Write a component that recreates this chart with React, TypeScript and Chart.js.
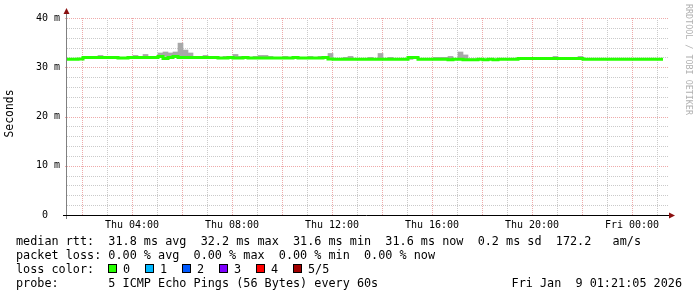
import React, { useEffect, useRef } from 'react';
import { Chart, registerables } from 'chart.js';

Chart.register(...registerables);

// time axis, in hours counted from Thu 00:00
const START_HOUR = 1.4;
const END_HOUR = 25.4;
const BUCKET_START = 1.44;
const BUCKET_HOURS = 0.2;

// median round-trip time per 12-minute bucket (ms)
const medianRtt = [
  31.6, 31.6, 31.6, 31.7, 32.0, 32.0, 32.0, 32.0, 32.0, 32.0,
  32.0, 31.9, 31.9, 32.0, 32.0, 32.0, 32.0, 32.0, 32.0, 32.2,
  31.8, 32.0, 32.2, 32.0, 32.0, 32.0, 32.0, 32.0, 32.0, 32.0,
  32.0, 31.9, 31.9, 32.0, 31.9, 31.9, 32.0, 31.9, 31.9, 31.9,
  31.9, 31.9, 31.9, 31.9, 31.9, 31.9, 32.0, 31.9, 31.9, 31.9,
  31.9, 31.9, 32.0, 31.7, 31.6, 31.6, 31.6, 31.6, 31.6, 31.6,
  31.6, 31.6, 31.6, 31.6, 31.6, 31.6, 31.6, 31.6, 31.6, 32.0,
  32.0, 31.6, 31.6, 31.6, 31.6, 31.6, 31.6, 31.5, 31.6, 31.6,
  31.5, 31.5, 31.5, 31.6, 31.5, 31.6, 31.5, 31.6, 31.6, 31.6,
  31.6, 31.8, 31.8, 31.8, 31.8, 31.8, 31.8, 31.8, 31.8, 31.8,
  31.8, 31.8, 31.8, 31.8, 31.6, 31.6, 31.6, 31.6, 31.6, 31.6,
  31.6, 31.6, 31.6, 31.6, 31.6, 31.6, 31.6, 31.6, 31.6,
];

// top of the smoke (max ping) per bucket (ms); null = no visible smoke
const smokeMax: (number | null)[] = [
  null, null, null, null, null, null, 32.4, null, 32.2, null,
  null, null, null, 32.4, null, 32.6, null, null, 32.9, 33.1,
  32.9, 33.1, 34.9, 33.5, 32.9, null, null, 32.4, null, null,
  null, 32.2, null, 32.6, 32.2, 32.2, null, 32.2, 32.4, 32.4,
  32.2, null, null, 32.2, null, null, null, null, 32.2, null,
  32.2, null, 32.8, null, null, 32.0, 32.2, null, null, null,
  32.0, null, 32.8, null, 32.0, null, null, null, 32.0, 32.2,
  null, null, null, 32.0, 32.0, 32.0, 32.2, null, 33.1, 32.5,
  31.7, 31.7, null, null, null, null, null, null, null, null,
  null, null, null, null, null, null, null, 32.2, null, null,
  null, null, 32.2, null, null, null, null, null, null, null,
  null, null, null, null, null, null, null, null, null,
];

const xTickHours = [2, 3, 4, 5, 6, 7, 8, 9, 10, 11, 12, 13, 14, 15, 16, 17, 18, 19, 20, 21, 22, 23, 24, 25];
const xTickLabels: Record<number, string> = {
  4: 'Thu 04:00',
  8: 'Thu 08:00',
  12: 'Thu 12:00',
  16: 'Thu 16:00',
  20: 'Thu 20:00',
  24: 'Fri 00:00',
};
const yTickLabels: Record<number, string> = {
  0: '0  ',
  10: '10 m',
  20: '20 m',
  30: '30 m',
  40: '40 m',
};

const legendLine1 = 'median rtt:  31.8 ms avg  32.2 ms max  31.6 ms min  31.6 ms now  0.2 ms sd  172.2   am/s';
const legendLine2 = 'packet loss: 0.00 % avg  0.00 % max  0.00 % min  0.00 % now';
const lossLabel = 'loss color:';
const lossNames = ['0', '1', '2', '3', '4', '5/5'];
const lossColors = ['#26ff00', '#00b8ff', '#0059ff', '#7e00ff', '#ff0000', '#a10000'];
const probeLabel = 'probe:       5 ICMP Echo Pings (56 Bytes) every 60s';
const stampText = 'Fri Jan  9 01:21:05 2026';
const yAxisTitle = 'Seconds';
const watermark = 'RRDTOOL / TOBI OETIKER';

const MONO = '"DejaVu Sans Mono", monospace';
const GRID_MINOR = '#cacaca';
const GRID_MAJOR = '#eeaaaa';
const MEDIAN_GREEN = '#26ff00';
const SMOKE_GRAY = '#a8a8a8';
const ARROW_RED = '#8b1010';

// dotted grid drawn from the scales' own ticks
const gridPlugin = {
  id: 'dottedGrid',
  beforeDatasetsDraw(chart: any) {
    const ctx: CanvasRenderingContext2D = chart.ctx;
    const { left, right, top, bottom } = chart.chartArea;
    const xs = chart.scales.x;
    const ys = chart.scales.y;
    ctx.save();
    ys.ticks.forEach((t: any) => {
      if (t.value === 0) return;
      const row = Math.round(ys.getPixelForValue(t.value));
      const major = t.value % 10 === 0;
      ctx.fillStyle = major ? GRID_MAJOR : GRID_MINOR;
      for (let x = Math.round(left) + (major ? -2 : 0); x < right + 2; x += 2) {
        ctx.fillRect(x, row, 1, 1);
      }
    });
    xs.ticks.forEach((t: any) => {
      const col = Math.round(xs.getPixelForValue(t.value));
      const major = t.value % 2 === 0;
      ctx.fillStyle = major ? GRID_MAJOR : GRID_MINOR;
      for (let y = Math.round(top); y < bottom; y += 2) {
        ctx.fillRect(col, y, 1, 1);
      }
    });
    ctx.restore();
  },
};

const decorPlugin = {
  id: 'decor',
  afterDraw(chart: any) {
    const ctx: CanvasRenderingContext2D = chart.ctx;
    const { left, right, top, bottom } = chart.chartArea;
    ctx.save();
    // axes
    ctx.lineWidth = 1;
    ctx.strokeStyle = '#808080';
    ctx.beginPath();
    ctx.moveTo(left - 0.5, bottom + 4);
    ctx.lineTo(left - 0.5, top - 6);
    ctx.stroke();
    ctx.strokeStyle = '#000000';
    ctx.beginPath();
    ctx.moveTo(left - 4, bottom + 0.5);
    ctx.lineTo(right + 3, bottom + 0.5);
    ctx.stroke();
    // arrows
    ctx.fillStyle = ARROW_RED;
    ctx.beginPath();
    ctx.moveTo(left - 0.5, top - 10);
    ctx.lineTo(left - 3.5, top - 4);
    ctx.lineTo(left + 2.5, top - 4);
    ctx.closePath();
    ctx.fill();
    ctx.beginPath();
    ctx.moveTo(right + 8, bottom + 0.5);
    ctx.lineTo(right + 2, bottom - 2.5);
    ctx.lineTo(right + 2, bottom + 3.5);
    ctx.closePath();
    ctx.fill();

    // y axis title
    ctx.fillStyle = '#000000';
    ctx.font = `11.4px ${MONO}`;
    ctx.textAlign = 'center';
    ctx.textBaseline = 'middle';
    ctx.save();
    ctx.translate(10, (top + bottom) / 2 - 3);
    ctx.rotate(-Math.PI / 2);
    ctx.fillText(yAxisTitle, 0, 0);
    ctx.restore();

    // watermark
    ctx.save();
    ctx.fillStyle = '#b0b0b0';
    ctx.font = `8.4px ${MONO}`;
    ctx.textAlign = 'left';
    ctx.translate(688, 4);
    ctx.rotate(Math.PI / 2);
    ctx.fillText(watermark, 0, 0);
    ctx.restore();

    // legend
    ctx.fillStyle = '#000000';
    ctx.font = `11.8px ${MONO}`;
    ctx.textAlign = 'left';
    ctx.textBaseline = 'alphabetic';
    const base = [245, 259, 273, 287];
    ctx.fillText(legendLine1, 16, base[0]);
    ctx.fillText(legendLine2, 16, base[1]);
    ctx.fillText(lossLabel, 16, base[2]);
    const swX = [108, 145, 182, 219, 256, 293];
    lossNames.forEach((name, i) => {
      ctx.fillStyle = lossColors[i];
      ctx.fillRect(swX[i], base[2] - 9, 9, 9);
      ctx.strokeStyle = '#000000';
      ctx.strokeRect(swX[i] + 0.5, base[2] - 8.5, 8, 8);
      ctx.fillStyle = '#000000';
      ctx.fillText(name, swX[i] + 15, base[2]);
    });
    ctx.fillText(probeLabel, 16, base[3]);
    ctx.textAlign = 'right';
    ctx.fillText(stampText, 682, base[3]);
    ctx.restore();
  },
};

export default function App() {
  const canvasRef = useRef<HTMLCanvasElement | null>(null);

  useEffect(() => {
    const canvas = canvasRef.current;
    if (!canvas) return;

    const linePoints = [{ x: START_HOUR, y: medianRtt[0] }].concat(
      medianRtt.map((v, k) => ({ x: BUCKET_START + k * BUCKET_HOURS, y: v })),
      [{ x: BUCKET_START + medianRtt.length * BUCKET_HOURS, y: medianRtt[medianRtt.length - 1] }]
    );
    const smokeBars: any[] = [];
    smokeMax.forEach((v, k) => {
      if (v !== null) {
        smokeBars.push({ x: BUCKET_START + (k + 0.5) * BUCKET_HOURS, y: [medianRtt[k], v] });
      }
    });

    const chart = new Chart(canvas, {
      type: 'line',
      data: {
        datasets: [
          {
            type: 'line',
            label: 'median',
            data: linePoints,
            borderColor: MEDIAN_GREEN,
            borderWidth: 3,
            pointRadius: 0,
            stepped: 'after',
            fill: false,
            borderJoinStyle: 'miter',
            borderCapStyle: 'butt',
            order: 0,
          } as any,
          {
            type: 'bar',
            label: 'smoke',
            data: smokeBars,
            backgroundColor: SMOKE_GRAY,
            borderWidth: 0,
            barPercentage: 1,
            categoryPercentage: 1,
            grouped: false,
            order: 1,
          } as any,
        ],
      },
      options: {
        responsive: false,
        animation: false,
        events: [],
        layout: { padding: { left: 0, top: 18, right: 30, bottom: 0 } },
        plugins: {
          legend: { display: false },
          tooltip: { enabled: false },
          title: { display: false },
        },
        scales: {
          x: {
            type: 'linear',
            offset: false,
            min: START_HOUR,
            max: END_HOUR,
            afterBuildTicks: (scale: any) => {
              scale.ticks = xTickHours.map((h) => ({ value: h }));
            },
            afterFit: (scale: any) => {
              scale.height = 82;
              scale.paddingLeft = 0;
              scale.paddingRight = 0;
            },
            grid: { display: false, offset: false, drawTicks: false },
            border: { display: false },
            ticks: {
              autoSkip: false,
              maxRotation: 0,
              padding: 4,
              color: '#000000',
              font: { family: MONO, size: 10 },
              callback: (v: any) => xTickLabels[v as number] ?? '',
            },
          } as any,
          y: {
            type: 'linear',
            min: 0,
            max: 40,
            afterFit: (scale: any) => {
              scale.width = 67;
            },
            grid: { display: false, drawTicks: false },
            border: { display: false },
            ticks: {
              stepSize: 2,
              autoSkip: false,
              padding: 7,
              color: '#000000',
              font: { family: MONO, size: 10 },
              callback: (v: any) => yTickLabels[v as number] ?? '',
            },
          },
        },
      },
      plugins: [gridPlugin, decorPlugin],
    });

    return () => {
      chart.destroy();
    };
  }, []);

  return (
    <div style={{ position: 'absolute', left: 0, top: 0, width: 697, height: 297, background: '#ffffff' }}>
      <canvas ref={canvasRef} width={697} height={297} style={{ display: 'block', width: 697, height: 297 }} />
    </div>
  );
}
